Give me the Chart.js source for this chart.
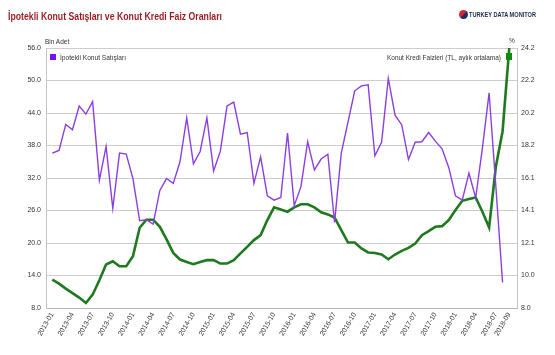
<!DOCTYPE html>
<html>
<head>
<meta charset="utf-8">
<script src="https://cdn.jsdelivr.net/npm/chart.js@4.4.1/dist/chart.umd.min.js"></script>
<style>
  html,body{margin:0;padding:0;background:#fff;}
  #wrap{position:relative;width:555px;height:355px;overflow:hidden;background:#fff;}
  canvas{position:absolute;left:0;top:0;}
  .t{position:absolute;white-space:nowrap;font-family:'Liberation Sans',Arial,sans-serif;transform-origin:0 50%;}
  .box{position:absolute;}
</style>
</head>
<body>
<div id="wrap">
  <canvas id="c" width="555" height="355"></canvas>
  <div class="t fit" id="title" data-w="214" style="left:8px;top:12px;font-size:10px;line-height:10px;font-weight:bold;color:#9a1c1f;">İpotekli Konut Satışları ve Konut Kredi Faiz Oranları</div>
  <div class="box" style="left:459px;top:10px;width:9px;height:9px;border-radius:50%;background:linear-gradient(135deg,#d8262e 0%,#d8262e 48%,#1d2f6b 52%,#1d2f6b 100%);"></div>
  <div class="t fit" id="logo" data-w="67" style="left:469px;top:11px;font-size:7.5px;line-height:7px;font-weight:bold;color:#1d2a4f;">TURKEY DATA MONITOR</div>
  <div class="t" style="left:45px;top:38px;font-size:6.5px;line-height:7px;color:#333;">Bin Adet</div>
  <div class="t" style="left:509px;top:37px;font-size:6.5px;line-height:7px;color:#333;">%</div>
  <div class="box" style="left:50px;top:54px;width:6px;height:6px;background:#7a10f0;"></div>
  <div class="t fit" data-w="66" style="left:60px;top:53.5px;font-size:7px;line-height:7px;color:#333;">İpotekli Konut Satışları</div>
  <div class="t fit" id="rleg" data-w="114" style="left:387px;top:53.5px;font-size:7px;line-height:7px;color:#333;">Konut Kredi Faizleri (TL, aylık ortalama)</div>
  <div class="box" style="left:506px;top:53px;width:6px;height:7px;background:#0e8a0e;"></div>
</div>
<script>
// ---- data ----
const months = ['2013-01','2013-02','2013-03','2013-04','2013-05','2013-06','2013-07','2013-08','2013-09','2013-10','2013-11','2013-12',
'2014-01','2014-02','2014-03','2014-04','2014-05','2014-06','2014-07','2014-08','2014-09','2014-10','2014-11','2014-12',
'2015-01','2015-02','2015-03','2015-04','2015-05','2015-06','2015-07','2015-08','2015-09','2015-10','2015-11','2015-12',
'2016-01','2016-02','2016-03','2016-04','2016-05','2016-06','2016-07','2016-08','2016-09','2016-10','2016-11','2016-12',
'2017-01','2017-02','2017-03','2017-04','2017-05','2017-06','2017-07','2017-08','2017-09','2017-10','2017-11','2017-12',
'2018-01','2018-02','2018-03','2018-04','2018-05','2018-06','2018-07','2018-08','2018-09'];

const mortgageSales = [36.6,37.1,41.9,40.9,45.3,43.8,46.1,31.6,37.8,26.4,36.6,36.4,
31.9,24.1,24.3,23.5,29.7,31.9,31.0,35.0,43.1,34.6,36.9,43.1,
33.3,36.9,45.3,46.0,40.1,40.4,31.0,35.9,28.7,27.9,28.4,40.3,
26.9,30.4,38.7,33.5,35.5,36.4,23.8,36.6,42.3,48.1,49.0,49.2,
36.1,38.6,50.4,43.6,41.8,35.4,38.6,38.7,40.4,38.8,37.4,33.9,
28.7,27.9,32.9,28.3,37.5,47.7,30.5,12.7];

const loanRates = [9.77,9.52,9.21,8.93,8.65,8.31,8.83,9.73,10.71,10.91,10.60,10.60,
11.23,13.00,13.50,13.50,13.06,12.27,11.43,11.02,10.87,10.73,10.87,10.98,
10.98,10.77,10.77,10.98,11.40,11.81,12.23,12.54,13.48,14.27,14.14,14.00,
14.27,14.46,14.46,14.27,13.96,13.83,13.64,12.85,12.08,12.08,11.71,11.46,
11.43,11.33,11.04,11.33,11.56,11.75,12.02,12.54,12.79,13.06,13.10,13.48,
14.10,14.68,14.79,14.89,14.00,13.02,16.80,19.00,24.20];

const xTickIndex = [0,3,6,9,12,15,18,21,24,27,30,33,36,39,42,45,48,51,54,57,60,63,66,68];
const leftTickValues = [8,14,20,26,32,38,44,50,56];
const rightTickLabels = ['8.0','10.0','12.1','14.1','16.1','18.2','20.2','22.2','24.2'];

// ---- fit narrow texts ----
document.querySelectorAll('.fit').forEach(el=>{
  const w = el.getBoundingClientRect().width;
  const target = parseFloat(el.dataset.w);
  el.style.transform = 'scaleX(' + (target / w) + ')';
});

const FONT = "'Liberation Sans', Arial, sans-serif";
const tickFont = {family: FONT, size: 7};

new Chart(document.getElementById('c'), {
  type: 'line',
  data: {
    datasets: [
      {
        label: 'İpotekli Konut Satışları',
        data: mortgageSales.map((v, i) => ({x: i, y: v})),
        yAxisID: 'y',
        borderColor: '#8c3fe0',
        borderWidth: 1.4,
        pointRadius: 0,
        tension: 0,
        fill: false
      },
      {
        label: 'Konut Kredi Faizleri (TL, aylık ortalama)',
        data: loanRates.map((v, i) => ({x: i, y: v})),
        yAxisID: 'y2',
        borderColor: '#1f7a1f',
        borderWidth: 2.6,
        pointRadius: 0,
        tension: 0,
        fill: false
      }
    ]
  },
  options: {
    responsive: false,
    animation: false,
    devicePixelRatio: 1,
    layout: {padding: {top: 48, left: 0, right: 0, bottom: 0}},
    plugins: {legend: {display: false}, tooltip: {enabled: false}, title: {display: false}},
    scales: {
      x: {
        type: 'linear',
        min: -0.94,
        max: 69.15,
        afterBuildTicks: (s) => { s.ticks = xTickIndex.map(v => ({value: v})); },
        afterFit: (s) => { s.height = 47; },
        grid: {display: false, drawTicks: false},
        border: {display: true, color: '#b8b8b8', width: 1},
        ticks: {
          autoSkip: false,
          minRotation: 60,
          maxRotation: 60,
          padding: 3,
          color: '#333',
          font: tickFont,
          callback: (v) => months[v]
        }
      },
      y: {
        position: 'left',
        min: 8,
        max: 56,
        afterBuildTicks: (s) => { s.ticks = leftTickValues.map(v => ({value: v})); },
        afterFit: (s) => { s.width = 46; },
        grid: {color: '#cdcdcd', lineWidth: 1, drawTicks: false},
        border: {display: true, color: '#c4c4c4', width: 1},
        ticks: {padding: 5, color: '#333', font: tickFont, callback: (v) => Number(v).toFixed(1)}
      },
      y2: {
        position: 'right',
        min: 8,
        max: 24.2,
        afterBuildTicks: (s) => { s.ticks = rightTickLabels.map((t, i) => ({value: 8 + i * (24.2 - 8) / 8})); },
        afterFit: (s) => { s.width = 38; },
        grid: {display: false, drawTicks: false},
        border: {display: true, color: '#c4c4c4', width: 1},
        ticks: {padding: 4, color: '#333', font: tickFont, callback: (v, i) => rightTickLabels[i]}
      }
    }
  }
});
</script>
</body>
</html>
